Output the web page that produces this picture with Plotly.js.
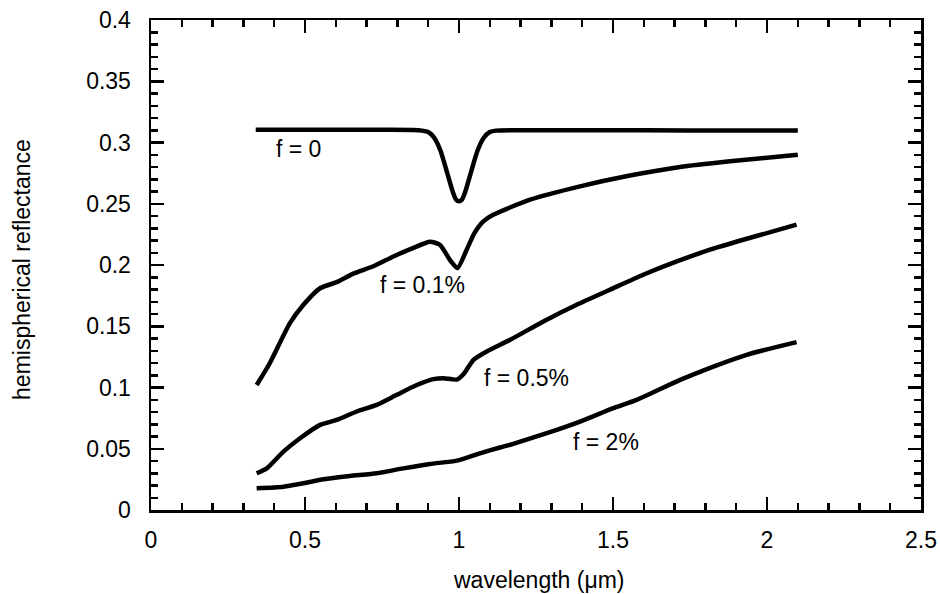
<!DOCTYPE html>
<html>
<head>
<meta charset="utf-8">
<script src="https://cdn.plot.ly/plotly-3.0.1.min.js"></script>
<style>html,body{margin:0;padding:0;background:#fff;}#plot{width:940px;height:594px;}</style>
</head>
<body>
<div id="plot"></div>
<script>
// f = 0
var x_f0 = [0.34, 0.5, 0.7, 0.85, 0.88, 0.90, 0.92, 0.94, 0.96, 0.98, 0.99, 1.00, 1.01, 1.02, 1.04, 1.06, 1.08, 1.10, 1.12, 1.3, 1.6, 1.9, 2.10];
var y_f0 = [0.3105, 0.3105, 0.3104, 0.3103, 0.3097, 0.3085, 0.3037, 0.2933, 0.2767, 0.2595, 0.2535, 0.2520, 0.2535, 0.2595, 0.2767, 0.2933, 0.3037, 0.3085, 0.3097, 0.3100, 0.3099, 0.3098, 0.3097];
// f = 0.1%
var x_f01 = [0.343, 0.386, 0.451, 0.495, 0.549, 0.603, 0.657, 0.722, 0.787, 0.852, 0.906, 0.938, 0.971, 0.995, 1.025, 1.050, 1.079, 1.111, 1.231, 1.393, 1.555, 1.718, 1.880, 2.10];
var y_f01 = [0.102, 0.120, 0.1525, 0.1675, 0.181, 0.186, 0.193, 0.199, 0.207, 0.214, 0.219, 0.2165, 0.204, 0.1975, 0.2125, 0.2260, 0.2356, 0.241, 0.2533, 0.2642, 0.273, 0.280, 0.2846, 0.290];
// f = 0.5%
var x_f05 = [0.343, 0.376, 0.430, 0.484, 0.549, 0.603, 0.668, 0.733, 0.798, 0.863, 0.917, 0.949, 0.993, 1.015, 1.047, 1.090, 1.166, 1.274, 1.382, 1.490, 1.598, 1.707, 1.815, 1.923, 2.096];
var y_f05 = [0.030, 0.034, 0.0477, 0.0586, 0.0695, 0.0735, 0.0804, 0.0858, 0.094, 0.102, 0.1068, 0.1076, 0.1065, 0.1110, 0.1226, 0.1294, 0.1389, 0.1539, 0.1675, 0.1798, 0.192, 0.2029, 0.2125, 0.2206, 0.2329];
// f = 2%
var x_f2 = [0.343, 0.430, 0.495, 0.560, 0.646, 0.733, 0.819, 0.906, 0.993, 1.068, 1.133, 1.176, 1.285, 1.393, 1.501, 1.577, 1.718, 1.826, 1.934, 2.096];
var y_f2 = [0.0177, 0.019, 0.0218, 0.0251, 0.0278, 0.030, 0.034, 0.0376, 0.0403, 0.0463, 0.0510, 0.0540, 0.0627, 0.0722, 0.0831, 0.0899, 0.1062, 0.1171, 0.1267, 0.1370];

var labelText = ['f = 0', 'f = 0.1%', 'f = 0.5%', 'f = 2%'];
var labelX = [0.48, 0.88, 1.218, 1.476];
var labelY = [0.295, 0.184, 0.108, 0.0556];

var xTickVals = [0, 0.5, 1, 1.5, 2, 2.5];
var xTickText = ['0', '0.5', '1', '1.5', '2', '2.5'];
var yTickVals = [0, 0.05, 0.1, 0.15, 0.2, 0.25, 0.3, 0.35, 0.4];
var yTickText = ['0', '0.05', '0.1', '0.15', '0.2', '0.25', '0.3', '0.35', '0.4'];

var xTitle = 'wavelength (\u03bcm)';
var yTitle = 'hemispherical reflectance';

var FONT = 'Liberation Sans, Arial, Helvetica, sans-serif';
var FS = 23;
function curve(x, y) {
  return {x: x, y: y, type: 'scatter', mode: 'lines',
    line: {color: '#000', width: 4.5, shape: 'spline', smoothing: 0.6},
    hoverinfo: 'skip', showlegend: false};
}
var data = [curve(x_f0, y_f0), curve(x_f01, y_f01), curve(x_f05, y_f05), curve(x_f2, y_f2)];

var annotations = labelText.map(function (t, i) {
  return {x: labelX[i], y: labelY[i], xref: 'x', yref: 'y', text: t, showarrow: false,
    font: {family: FONT, size: FS, color: '#000'}};
});
annotations.push({x: -0.1675, y: 0.49, xref: 'paper', yref: 'paper', text: yTitle, textangle: -90,
  showarrow: false, xanchor: 'center', yanchor: 'middle', font: {family: FONT, size: FS, color: '#000'}});
annotations.push({x: 0.5026, y: -0.143, xref: 'paper', yref: 'paper', text: xTitle,
  showarrow: false, xanchor: 'center', yanchor: 'middle', font: {family: FONT, size: FS, color: '#000'}});

var axisCommon = {
  showgrid: false, zeroline: false, showline: true, linecolor: '#000', linewidth: 2.5,
  mirror: 'ticks', ticks: 'inside', ticklen: 13, tickwidth: 2.5, tickcolor: '#000',
  tickfont: {family: FONT, size: FS, color: '#000'}
};

var layout = {
  width: 940, height: 594,
  margin: {l: 151, r: 19, t: 20, b: 84},
  paper_bgcolor: '#fff', plot_bgcolor: '#fff',
  xaxis: Object.assign({}, axisCommon, {
    range: [0, 2.5], tickmode: 'array', tickvals: xTickVals, ticktext: xTickText,
    ticklabelstandoff: 8,
    minor: {dtick: 0.1, tick0: 0, ticks: 'inside', ticklen: 7, tickwidth: 2.5, tickcolor: '#000', showgrid: false}
  }),
  yaxis: Object.assign({}, axisCommon, {
    range: [0, 0.4], tickmode: 'array', tickvals: yTickVals, ticktext: yTickText,
    ticklabelstandoff: 13,
    minor: {dtick: 0.01, tick0: 0, ticks: 'inside', ticklen: 7, tickwidth: 2.5, tickcolor: '#000', showgrid: false}
  }),
  annotations: annotations,
  showlegend: false
};

Plotly.newPlot('plot', data, layout, {displayModeBar: false, staticPlot: true});
</script>
</body>
</html>
